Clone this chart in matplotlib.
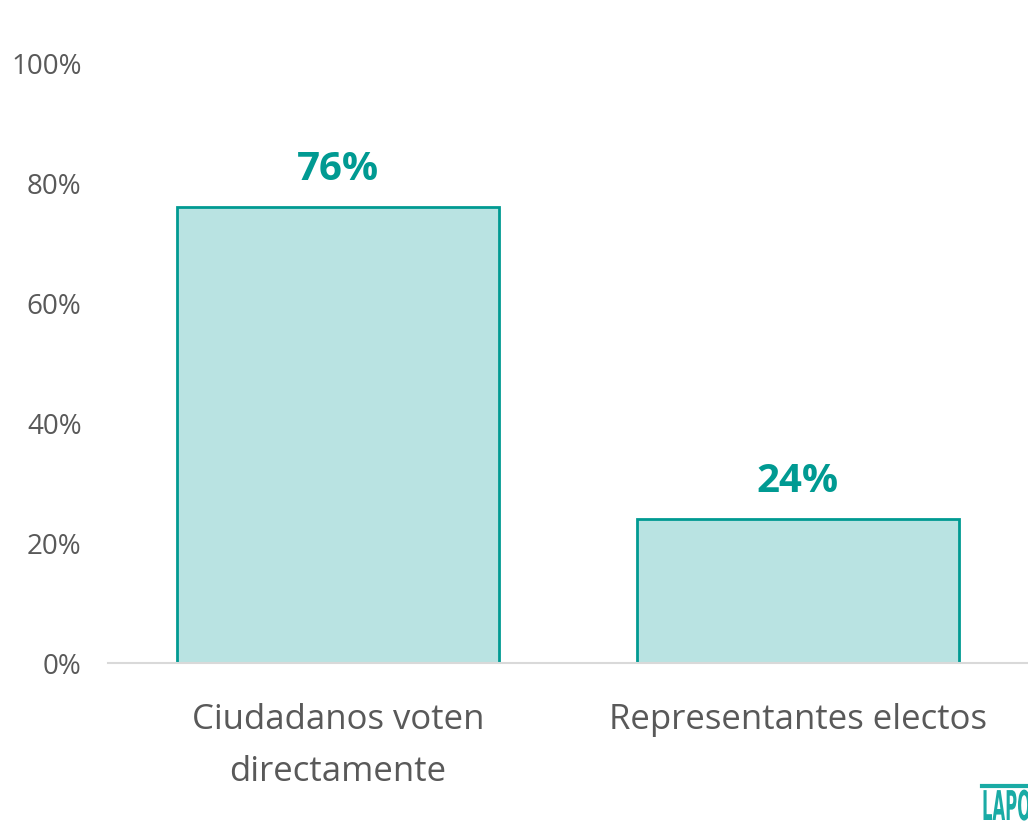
import matplotlib
matplotlib.use("Agg")
import matplotlib.pyplot as plt
from matplotlib.ticker import FuncFormatter
from matplotlib.textpath import TextPath
from matplotlib.patches import PathPatch
from matplotlib.font_manager import FontProperties
from matplotlib.transforms import Affine2D, IdentityTransform

# Datos
categorias = ["Ciudadanos voten\ndirectamente", "Representantes electos"]
valores = [76, 24]
ticks_y = [0, 20, 40, 60, 80, 100]

TEAL = "#009a92"
RELLENO = "#b9e3e2"
GRIS = "#595959"
LOGO = "#1aaba5"

plt.rcParams["font.family"] = ["Open Sans", "DejaVu Sans"]

fig = plt.figure(figsize=(10.28, 8.25), dpi=100)
ax = fig.add_axes([108 / 1028, 1 - 663 / 825, 920 / 1028, 600 / 825])

x = list(range(len(categorias)))
ax.bar(x, valores, width=0.7, color=RELLENO, edgecolor=TEAL, linewidth=2, zorder=2)

for xi, v in zip(x, valores):
    ax.text(xi, v + 3, f"{v}%", ha="center", va="bottom", fontsize=29,
            fontweight="bold", color=TEAL)

ax.set_xlim(-0.5, 1.5)
ax.set_ylim(0, 100)
ax.set_yticks(ticks_y)
ax.yaxis.set_major_formatter(FuncFormatter(lambda v, p: f"{v:.0f}%"))
ax.set_xticks(x)
ax.set_xticklabels(categorias, fontsize=25, color=GRIS, linespacing=1.68)
ax.tick_params(axis="y", length=0, pad=19, labelsize=20, labelcolor=GRIS)
ax.tick_params(axis="x", length=0, pad=29)

for lado in ["top", "right", "left"]:
    ax.spines[lado].set_visible(False)
ax.spines["bottom"].set_color("#d9d9d9")
ax.spines["bottom"].set_linewidth(1.5)
ax.spines["bottom"].set_zorder(3)

# Logo LAPOP (recortado en el borde derecho, letras condensadas)
fig.add_artist(plt.Line2D([982 / 1028, 1.0], [1 - 786 / 825] * 2, color=LOGO, linewidth=3))
ruta = TextPath((0, 0), "LAPOP", size=41, prop=FontProperties(family="DejaVu Sans", weight="bold"))
tr = Affine2D().scale(0.4, 1.0).translate(982, 825 - 820) + IdentityTransform()
fig.add_artist(PathPatch(ruta, transform=tr, facecolor=LOGO, edgecolor="none"))

fig.savefig("out.png", dpi=100)
